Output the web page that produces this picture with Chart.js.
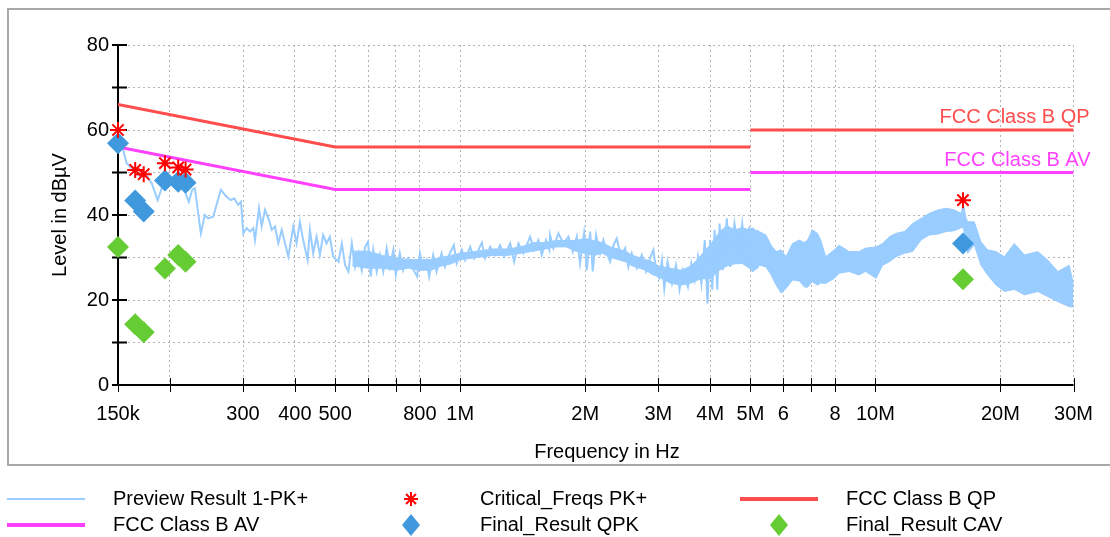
<!DOCTYPE html>
<html lang="en">
<head>
    <meta charset="UTF-8">
    <title>Conducted Emission Scan</title>
    <script src="https://cdn.jsdelivr.net/npm/chart.js"></script>
    <style>
        html, body { margin: 0; padding: 0; background: #fff; }
        canvas { display: block; }
    </style>
</head>
<body>
    <canvas id="emiChart" width="1110" height="537"></canvas>
    <script>
        // frequencies in MHz, levels in dBuV
        const freqTicks = [0.15, 0.2, 0.3, 0.4, 0.5, 0.6, 0.7, 0.8, 1, 2, 3, 4, 5, 6, 7, 8, 10, 20, 30];
        const freqTickLabels = ['150k', '', '300', '400', '500', '', '', '800', '1M', '2M', '3M', '4M', '5M', '6', '', '8', '10M', '20M', '30M'];
        const levelTicks = [0, 20, 40, 60, 80];

        const previewFreq = [
            0.1531, 0.1574, 0.1603, 0.1648, 0.1695, 0.1742, 0.1808, 0.1869, 0.1911, 0.1946,
            0.2134, 0.2222, 0.2263, 0.2297, 0.2375, 0.2428, 0.2473, 0.2542, 0.2653, 0.2738,
            0.2804, 0.2856, 0.2920, 0.2967, 0.3004, 0.3062, 0.3119, 0.3176, 0.3206, 0.3278,
            0.3327, 0.3389, 0.3465, 0.3517, 0.3582, 0.3649, 0.3718, 0.3857, 0.3965, 0.4038,
            0.4112, 0.4188, 0.4292, 0.4347, 0.4427, 0.4511, 0.4594, 0.4678, 0.4767, 0.4856,
            0.4946, 0.5092, 0.5189, 0.5285, 0.5383, 0.5485, 0.5586, 0.5689, 0.5797, 0.5904,
            0.6000, 0.6090, 0.6179, 0.6296, 0.6412, 0.6530, 0.6654, 0.6778, 0.6904, 0.7000,
            0.7157, 0.7289, 0.7494, 0.7679, 0.7878, 0.8000, 0.8147, 0.8302, 0.8423, 0.8612,
            0.8776, 0.9022, 0.9189, 0.9447, 0.9659, 0.9805, 1.0095, 1.028, 1.057, 1.0807,
            1.1068, 1.1278, 1.1486, 1.1809, 1.214, 1.248, 1.2763, 1.3193, 1.3489, 1.3818,
            1.4205, 1.4738, 1.5068, 1.5432, 1.5725, 1.6104, 1.6401, 1.6465, 1.6768, 1.7241,
            1.7727, 1.8226, 1.8677, 1.9097, 1.9446, 1.988, 2.019, 2.056, 2.086, 2.125,
            2.173, 2.214, 2.256, 2.297, 2.339, 2.384, 2.438, 2.496, 2.542, 2.590,
            2.663, 2.738, 2.804, 2.866, 2.920, 2.975, 3.017, 3.062, 3.101, 3.158,
            3.237, 3.310, 3.375, 3.437, 3.535, 3.602, 3.671, 3.739, 3.811, 3.882,
            3.941, 4.000, 4.047, 4.099, 4.160, 4.214, 4.291, 4.387, 4.470, 4.577,
            4.689, 4.778, 4.885, 4.970, 5.064, 5.206
        ];
        const previewLevel = [
            56.5, 52.2, 51.4, 50.2, 49.0, 49.9, 47.5, 43.5, 46.3, 48.2,
            47.5, 43.1, 45.9, 46.3, 35.7, 40.0, 39.2, 39.6, 45.9, 44.3,
            43.5, 43.9, 42.4, 43.1, 35.7, 36.9, 36.1, 36.9, 34.1, 41.6,
            37.3, 41.2, 38.8, 36.5, 37.3, 33.3, 36.5, 30.2, 37.3, 33.3,
            38.4, 34.1, 29.4, 36.5, 31.0, 34.9, 30.6, 35.3, 33.3, 34.9,
            30.2, 29.0, 33.3, 28.2, 26.7, 33.3, 27.8, 31.0, 27.0, 32.5,
            33.7, 25.5, 31.8, 26.7, 30.6, 26.7, 32.2, 27.8, 31.8, 25.9,
            31.0, 27.0, 29.8, 27.5, 25.5, 31.0, 27.8, 29.4, 25.5, 30.6,
            26.7, 31.0, 27.8, 31.0, 32.9, 28.6, 31.8, 29.4, 32.5, 29.8,
            31.8, 33.5, 29.8, 32.5, 30.6, 32.9, 30.2, 33.3, 29.0, 33.3,
            31.0, 34.9, 31.8, 34.1, 30.6, 34.1, 31.8, 35.3, 32.2, 35.7,
            33.3, 34.9, 31.4, 34.9, 28.6, 35.7, 27.0, 36.1, 26.7, 35.3,
            31.0, 34.1, 31.0, 29.0, 32.9, 34.5, 30.2, 32.2, 27.8, 31.0,
            27.5, 30.6, 26.7, 29.8, 31.8, 25.9, 25.1, 29.4, 22.7, 29.0,
            23.9, 28.2, 22.4, 27.0, 23.1, 28.6, 24.7, 30.2, 23.9, 34.1,
            19.2, 34.1, 22.4, 36.5, 22.4, 38.0, 27.0, 39.2, 27.8, 38.0,
            31.8, 38.0, 28.6, 37.3, 26.7, 36.5
        ];

        // dense part of the preview scan, as upper / lower envelope
        const bandFreq = [
            0.55, 0.6, 0.65, 0.7, 0.75, 0.8, 0.85, 0.9, 0.95, 1.0,
            1.1, 1.2, 1.3, 1.4, 1.5, 1.6, 1.7, 1.8, 1.9, 2.0,
            2.1, 2.2, 2.3, 2.4, 2.5, 2.6, 2.7, 2.8, 2.9, 3.0,
            3.2, 3.4, 3.6, 3.8, 4.0,
            4.214, 4.387, 4.577, 4.778, 4.97, 5.06, 5.206, 5.255, 5.45, 5.608,
            5.766, 5.93, 6.09, 6.315, 6.555, 6.74, 6.865, 7.05, 7.25, 7.385,
            7.59, 7.96, 8.18, 8.64, 9.12, 9.47, 10.04, 10.41, 10.81, 11.22,
            11.75, 12.29, 12.88, 13.49, 14.13, 14.8, 15.5, 16.08, 16.29, 16.5,
            16.68, 17.3, 17.95, 18.63, 19.52, 20.45, 21.6, 22.85, 24.6, 26.0,
            27.5, 29.3, 30
        ];
        const bandHigh = [
            31.5, 31.5, 30.5, 30, 29.5, 29.5, 29.5, 30, 30.5, 31,
            31.5, 32, 32, 32.5, 33.5, 33.5, 34, 34, 34, 34.5,
            34, 33.5, 32.5, 32, 31.5, 30.5, 30, 29.5, 29, 28,
            27.5, 27, 28, 30.5, 33,
            36, 37.5, 36.5, 37, 36.5, 37, 36, 36.1, 35.3, 32.9,
            31.4, 31.8, 30.2, 33.3, 34.1, 33.5, 34.1, 36.5, 35.7, 34.1,
            30.2, 31.8, 32.9, 31.4, 31.4, 32.2, 32.5, 33.3, 34.9, 35.7,
            36.1, 38, 39.2, 40.4, 41.2, 41.6, 41.2, 40.4, 42.7, 39.5,
            38.4, 38.4, 33.7, 31.8, 31.4, 30.2, 33.3, 30.6, 31.4, 29.4,
            26.7, 28.2, 23.5
        ];
        const bandLow = [
            28, 27.5, 27.5, 27, 27.5, 27, 27, 28, 28.5, 29.5,
            30, 30.5, 30.5, 31, 31.5, 32, 32.5, 32.5, 31.5, 31,
            30.5, 31, 30, 29.5, 29, 28, 27.5, 27, 26, 25.5,
            24, 23.5, 24, 25, 25,
            27, 28, 28.5, 28.6, 27.5, 26.7, 27.5, 28.2, 27.8, 25.9,
            23.5, 21.6, 22.7, 24.7, 24.5, 23.1, 23, 24.3, 23.5, 24,
            23.9, 25.1, 26.3, 26.7, 25.9, 26.7, 25.1, 28.2, 29, 30.2,
            31, 31.4, 34.1, 35.3, 35.5, 36.1, 36.3, 37, 37, 34,
            31, 33, 28.2, 25.9, 23.5, 22, 22.5, 21.2, 22, 20.8,
            19.6, 18.4, 18.4
        ];

        const qpFreq = [0.15, 0.5, 5, 5, 5, 30];
        const qpLevel = [66, 56, 56, null, 60, 60];
        const avFreq = [0.15, 0.5, 5, 5, 5, 30];
        const avLevel = [56, 46, 46, null, 50, 50];

        const finalFreq = [0.15, 0.165, 0.173, 0.1946, 0.2094, 0.2182, 16.25];
        const criticalLevel = [60, 50.6, 49.6, 52.2, 51.2, 50.7, 43.5];
        const qpkLevel = [56.9, 43.4, 40.8, 48.1, 47.8, 47.6, 33.3];
        const cavLevel = [32.5, 14.3, 12.4, 27.4, 30.6, 29.0, 24.9];

        const FONT = '"Liberation Sans", Arial, sans-serif';
        const PREVIEW_COLOR = 'rgb(153, 204, 255)';
        const QP_COLOR = 'rgb(255, 77, 77)';
        const AV_COLOR = 'rgb(255, 64, 255)';
        const QPK_COLOR = 'rgb(64, 153, 221)';
        const CAV_COLOR = 'rgb(102, 204, 51)';
        const STAR_COLOR = 'rgb(255, 0, 0)';

        function toPoints(xs, ys) {
            return xs.map((x, i) => ({ x: x, y: ys[i] }));
        }

        function drawDiamond(ctx, x, y, hw, hh, color) {
            ctx.fillStyle = color;
            ctx.beginPath();
            ctx.moveTo(x, y - hh);
            ctx.lineTo(x + hw, y);
            ctx.lineTo(x, y + hh);
            ctx.lineTo(x - hw, y);
            ctx.closePath();
            ctx.fill();
        }

        function drawStar(ctx, x, y, r, color) {
            ctx.strokeStyle = color;
            ctx.lineWidth = 2;
            ctx.beginPath();
            for (let k = 0; k < 4; k++) {
                const a = k * Math.PI / 4;
                ctx.moveTo(x - Math.sin(a) * r, y - Math.cos(a) * r);
                ctx.lineTo(x + Math.sin(a) * r, y + Math.cos(a) * r);
            }
            ctx.stroke();
        }

        const chartDecor = {
            id: 'chartDecor',
            beforeDraw(chart) {
                const ctx = chart.ctx;
                ctx.save();
                ctx.fillStyle = '#fff';
                ctx.fillRect(0, 0, chart.width, chart.height);
                ctx.strokeStyle = '#a8a8a8';
                ctx.lineWidth = 2;
                ctx.strokeRect(8, 9, chart.width + 10, 456);
                ctx.restore();
            },
            beforeDatasetsDraw(chart) {
                const { ctx, chartArea: a, scales: { x, y } } = chart;
                ctx.save();
                ctx.strokeStyle = '#000';
                ctx.lineWidth = 2;
                ctx.beginPath();
                ctx.moveTo(a.left, a.top);
                ctx.lineTo(a.left, a.bottom);
                ctx.lineTo(a.right, a.bottom);
                y.ticks.forEach(t => {
                    const py = y.getPixelForValue(t.value);
                    ctx.moveTo(a.left - 6, py);
                    ctx.lineTo(a.left + 9, py);
                });
                ctx.stroke();
                ctx.lineWidth = 1;
                ctx.beginPath();
                x.ticks.forEach(t => {
                    const px = Math.round(x.getPixelForValue(t.value)) + 0.5;
                    ctx.moveTo(px, a.bottom - 7);
                    ctx.lineTo(px, a.bottom + 7);
                });
                ctx.stroke();
                ctx.restore();
            },
            afterDraw(chart) {
                const { ctx, chartArea: a, scales: { y } } = chart;
                ctx.save();
                ctx.font = '20px ' + FONT;
                ctx.fillStyle = '#000';
                ctx.textBaseline = 'middle';

                // axis titles
                ctx.textAlign = 'center';
                ctx.fillText('Frequency in Hz', 607, 452);
                ctx.save();
                ctx.translate(60, (a.top + a.bottom) / 2);
                ctx.rotate(-Math.PI / 2);
                ctx.fillText('Level in dBµV', 0, 0);
                ctx.restore();

                // limit line names
                ctx.textAlign = 'right';
                ctx.textBaseline = 'alphabetic';
                ctx.fillStyle = QP_COLOR;
                ctx.fillText('FCC Class B QP', a.right + 16, y.getPixelForValue(60) - 7);
                ctx.fillStyle = AV_COLOR;
                ctx.fillText('FCC Class B AV', a.right + 17, y.getPixelForValue(50) - 7);

                // legend
                ctx.textAlign = 'left';
                ctx.textBaseline = 'middle';
                const rows = [499, 525];
                const entries = [
                    { label: 'Preview Result 1-PK+', col: 0, row: 0, kind: 'line', color: PREVIEW_COLOR, width: 2 },
                    { label: 'Critical_Freqs PK+', col: 1, row: 0, kind: 'star', color: STAR_COLOR },
                    { label: 'FCC Class B QP', col: 2, row: 0, kind: 'line', color: QP_COLOR, width: 4 },
                    { label: 'FCC Class B AV', col: 0, row: 1, kind: 'line', color: AV_COLOR, width: 4 },
                    { label: 'Final_Result QPK', col: 1, row: 1, kind: 'diamond', color: QPK_COLOR },
                    { label: 'Final_Result CAV', col: 2, row: 1, kind: 'diamond', color: CAV_COLOR }
                ];
                const symbolLeft = [7, 372, 740];
                const textLeft = [113, 480, 846];
                entries.forEach(e => {
                    const yy = rows[e.row];
                    const sx = symbolLeft[e.col];
                    if (e.kind === 'line') {
                        ctx.strokeStyle = e.color;
                        ctx.lineWidth = e.width;
                        ctx.beginPath();
                        ctx.moveTo(sx, yy);
                        ctx.lineTo(sx + 78, yy);
                        ctx.stroke();
                    } else if (e.kind === 'star') {
                        drawStar(ctx, sx + 39, yy, 7, e.color);
                    } else {
                        drawDiamond(ctx, sx + 39, yy, 9, 11, e.color);
                    }
                    ctx.fillStyle = '#000';
                    ctx.fillText(e.label, textLeft[e.col], yy);
                });
                ctx.restore();
            }
        };

        const ctx = document.getElementById('emiChart').getContext('2d');
        const chart = new Chart(ctx, {
            type: 'line',
            data: {
                datasets: [
                    {
                        label: 'Critical_Freqs PK+',
                        data: toPoints(finalFreq, criticalLevel),
                        showLine: false,
                        pointStyle: 'star',
                        pointRadius: 8,
                        pointBorderWidth: 2,
                        pointBorderColor: STAR_COLOR,
                        clip: false,
                        order: 0
                    },
                    {
                        label: 'Final_Result QPK',
                        data: toPoints(finalFreq, qpkLevel),
                        showLine: false,
                        pointStyle: 'rectRot',
                        pointRadius: 11,
                        pointBorderWidth: 0,
                        pointBackgroundColor: QPK_COLOR,
                        clip: false,
                        order: 1
                    },
                    {
                        label: 'Final_Result CAV',
                        data: toPoints(finalFreq, cavLevel),
                        showLine: false,
                        pointStyle: 'rectRot',
                        pointRadius: 11,
                        pointBorderWidth: 0,
                        pointBackgroundColor: CAV_COLOR,
                        clip: false,
                        order: 1
                    },
                    {
                        label: 'FCC Class B QP',
                        data: toPoints(qpFreq, qpLevel),
                        borderColor: QP_COLOR,
                        borderWidth: 3,
                        pointRadius: 0,
                        spanGaps: false,
                        order: 2
                    },
                    {
                        label: 'FCC Class B AV',
                        data: toPoints(avFreq, avLevel),
                        borderColor: AV_COLOR,
                        borderWidth: 3,
                        pointRadius: 0,
                        spanGaps: false,
                        order: 2
                    },
                    {
                        label: 'Preview Result 1-PK+',
                        data: toPoints(previewFreq, previewLevel),
                        borderColor: PREVIEW_COLOR,
                        borderWidth: 2,
                        pointRadius: 0,
                        order: 3
                    },
                    {
                        label: 'preview band low',
                        data: toPoints(bandFreq, bandLow),
                        borderColor: PREVIEW_COLOR,
                        borderWidth: 1,
                        pointRadius: 0,
                        fill: false,
                        order: 4
                    },
                    {
                        label: 'preview band high',
                        data: toPoints(bandFreq, bandHigh),
                        borderColor: PREVIEW_COLOR,
                        backgroundColor: PREVIEW_COLOR,
                        borderWidth: 1,
                        pointRadius: 0,
                        fill: '-1',
                        order: 4
                    }
                ]
            },
            options: {
                responsive: false,
                animation: false,
                layout: {
                    padding: { top: 45, right: 36, left: 0, bottom: 0 }
                },
                plugins: {
                    legend: { display: false },
                    tooltip: { enabled: false }
                },
                scales: {
                    x: {
                        type: 'logarithmic',
                        min: 0.15,
                        max: 30,
                        afterBuildTicks: function(scale) {
                            scale.ticks = freqTicks.map(v => ({ value: v }));
                        },
                        afterFit: function(scale) {
                            scale.height = 152;
                        },
                        grid: {
                            color: '#b4b4b4',
                            lineWidth: 1,
                            drawTicks: false,
                            borderDash: [2, 3]
                        },
                        border: { display: false, dash: [2, 3] },
                        ticks: {
                            autoSkip: false,
                            maxRotation: 0,
                            minRotation: 0,
                            padding: 17,
                            color: '#000',
                            font: { family: FONT, size: 20 },
                            callback: function(value, index) {
                                return freqTickLabels[index];
                            }
                        }
                    },
                    y: {
                        min: 0,
                        max: 80,
                        afterFit: function(scale) {
                            scale.width = 118;
                        },
                        grid: {
                            color: '#b4b4b4',
                            lineWidth: 1,
                            drawTicks: false,
                            borderDash: [2, 3]
                        },
                        border: { display: false, dash: [2, 3] },
                        ticks: {
                            stepSize: 10,
                            padding: 9,
                            color: '#000',
                            font: { family: FONT, size: 20 },
                            callback: function(value) {
                                return levelTicks.includes(value) ? value : '';
                            }
                        }
                    }
                }
            },
            plugins: [chartDecor]
        });
    </script>
</body>
</html>
